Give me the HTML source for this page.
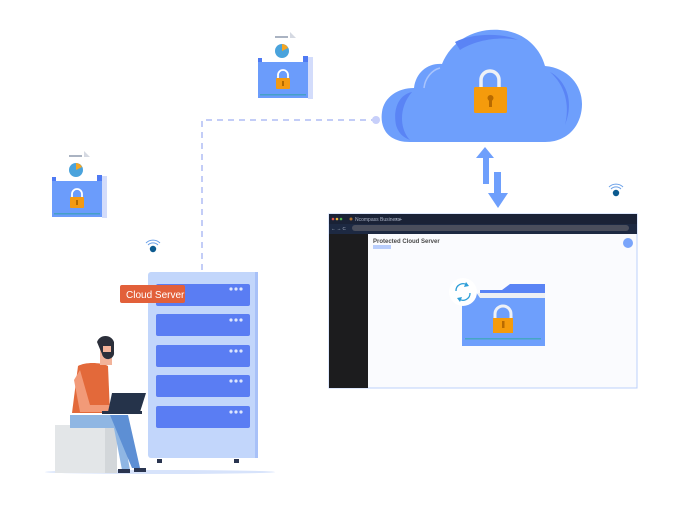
<!DOCTYPE html>
<html><head><meta charset="utf-8"><style>
html,body{margin:0;padding:0;background:#fff;}
svg{display:block;}
text{font-family:"Liberation Sans",sans-serif;}
</style></head><body>
<svg width="675" height="525" viewBox="0 0 675 525" xmlns="http://www.w3.org/2000/svg">
<defs>
<g id="fold">
  <rect x="17" y="0" width="13" height="2" fill="#aab3c2"/>
  <polygon points="32,-4 40,4 32,4" fill="#d5d9e2"/>
  <rect x="8" y="2" width="38" height="20" fill="#fff"/>
  <circle cx="24" cy="15" r="7" fill="#4aa3dc"/>
  <path d="M24 15 L24 8 A7 7 0 0 1 30 12 Z" fill="#f5a623"/>
  <rect x="50" y="21" width="5" height="42" fill="#d3dcfb"/>
  <rect x="0" y="26" width="50" height="36" fill="#6b9cfb"/>
  <rect x="0" y="22" width="4" height="4" fill="#4f7af3"/>
  <rect x="45" y="20" width="5" height="6" fill="#4f7af3"/>
  <rect x="2" y="58" width="46" height="1.5" fill="#46a0c7"/>
  <path d="M20 43 v-4 a5 5 0 0 1 10 0 v4" stroke="#fff" stroke-width="1.8" fill="none"/>
  <rect x="18" y="42" width="14" height="11" rx="1" fill="#f39a12"/>
  <rect x="24" y="45" width="2" height="5" fill="#b26a00"/>
</g>
<g id="wifi">
  <circle cx="0" cy="4" r="3.2" fill="#0c5a8f"/>
  <path d="M-5 0 a7 7 0 0 1 10 0" stroke="#6aa0e8" stroke-width="1" fill="none"/>
  <path d="M-7 -2 a10 10 0 0 1 14 0" stroke="#6aa0e8" stroke-width="1" fill="none"/>
</g>
</defs>

<!-- dashed connector -->
<path d="M202 270 V120 H374" stroke="#c3cdf7" stroke-width="2" stroke-dasharray="6,5" fill="none"/>
<circle cx="376" cy="120" r="4" fill="#c7cffa"/>

<!-- folders -->
<use href="#fold" transform="translate(258,36)"/>
<use href="#fold" transform="translate(52,155)"/>

<!-- wifi -->
<use href="#wifi" transform="translate(153,245)"/>
<use href="#wifi" transform="translate(616,189)"/>

<!-- cloud -->
<g>
  <path d="M410 142 C385 142 380 125 382 112 C384 97 398 88 414 88 C416 72 428 63 442 64 C452 40 475 28 500 30 C525 32 540 48 545 66 C568 68 582 85 582 104 C582 125 568 142 545 142 Z" fill="#6e9ffc"/>
  <path d="M455 42 C470 34 500 32 518 40 C500 36 475 40 460 50 Z" fill="#5a84f5"/>
  <path d="M412 92 C398 95 393 110 396 125 C398 132 402 137 410 140 C400 130 398 108 412 92 Z" fill="#5a84f5"/>
  <path d="M550 72 C565 80 575 100 565 125 C570 105 565 85 550 72 Z" fill="#5a84f5"/>
  <path d="M440 68 C432 70 425 78 424 88" stroke="#a9c4fc" stroke-width="1.5" fill="none"/>
  <path d="M481 88 v-8 a9 9 0 0 1 18 0 v8" stroke="#eef1f6" stroke-width="3.5" fill="none"/>
  <rect x="474" y="87" width="33" height="26" rx="1.5" fill="#f59b0c"/>
  <circle cx="490.5" cy="98" r="3" fill="#b86a00"/>
  <rect x="489" y="99" width="3" height="8" fill="#b86a00"/>
</g>
<!-- arrows -->
<polygon points="485,147 494,158 489,158 489,184 483,184 483,158 476,158" fill="#6e9ffc"/>
<polygon points="494,172 501,172 501,193 508,193 498,208 488,193 494,193" fill="#6e9ffc"/>

<!-- browser -->
<rect x="329" y="214" width="308" height="174" fill="#fafbfe" stroke="#bcd0fb" stroke-width="1"/>
<rect x="329" y="214" width="308" height="20" fill="#1d2942"/>
<rect x="329" y="214" width="308" height="10" fill="#1a2236"/>
<circle cx="333" cy="219" r="1.3" fill="#e0514b"/><circle cx="337" cy="219" r="1.3" fill="#e5b53a"/><circle cx="341" cy="219" r="1.3" fill="#4fb44a"/>
<circle cx="351" cy="219" r="1.5" fill="#b0702c"/>
<text x="355" y="221" font-size="5" fill="#aab2c5">Ncompass Business</text>
<text x="395" y="221" font-size="5" fill="#aab2c5">×   +</text>
<rect x="352" y="225" width="277" height="6" rx="3" fill="#4a4e5c"/>
<text x="331" y="230" font-size="4.5" fill="#aab2c5">← → C</text>
<rect x="329" y="234" width="39" height="154" fill="#1c1c1e"/>
<text x="373" y="243" font-size="6" fill="#4a4a4a" font-weight="bold">Protected Cloud Server</text>
<rect x="373" y="245" width="18" height="4" fill="#b8cdfc"/>
<circle cx="628" cy="243" r="5" fill="#7aa5fb"/>
<!-- folder inside -->
<polygon points="480,290 502,290 510,284 545,284 545,293 480,293" fill="#5a84f5"/>
<rect x="478" y="293" width="67" height="6" fill="#eef0f4"/>
<path d="M462 292 H476 L480 298 H545 V346 H462 Z" fill="#6e9ffc"/>
<rect x="465" y="338" width="76" height="1.5" fill="#46a6c4"/>
<path d="M495 319 v-5 a8 8 0 0 1 16 0 v5" stroke="#eef1f6" stroke-width="3" fill="none"/>
<rect x="493" y="318" width="20" height="15" fill="#f59b0c"/>
<rect x="502" y="321" width="2.5" height="7" fill="#b86a00"/>
<circle cx="463" cy="292" r="14" fill="#fff"/>
<path d="M456 291 a7 7 0 0 1 11 -6" stroke="#2d9ed8" stroke-width="1.3" fill="none"/>
<path d="M470 293 a7 7 0 0 1 -11 6" stroke="#2d9ed8" stroke-width="1.3" fill="none"/>
<polygon points="466,282 469,286 464,287" fill="#2d9ed8"/>
<polygon points="460,302 457,298 462,297" fill="#2d9ed8"/>

<!-- ground -->
<ellipse cx="160" cy="472" rx="115" ry="2" fill="#d7e3fb"/>
<!-- server -->
<rect x="148" y="272" width="110" height="186" rx="3" fill="#c2d6fb"/>
<rect x="255" y="272" width="3" height="186" fill="#a8c1f8"/>
<rect x="157" y="459" width="5" height="4" fill="#2a3550"/>
<rect x="234" y="459" width="5" height="4" fill="#2a3550"/>
<g fill="#5a7df3">
<rect x="156" y="284" width="94" height="22" rx="2"/>
<rect x="156" y="314" width="94" height="22" rx="2"/>
<rect x="156" y="345" width="94" height="22" rx="2"/>
<rect x="156" y="375" width="94" height="22" rx="2"/>
<rect x="156" y="406" width="94" height="22" rx="2"/>
</g>
<g fill="#dde6fd">
<circle cx="231" cy="289" r="1.6"/><circle cx="236" cy="289" r="1.6"/><circle cx="241" cy="289" r="1.6"/>
<circle cx="231" cy="320" r="1.6"/><circle cx="236" cy="320" r="1.6"/><circle cx="241" cy="320" r="1.6"/>
<circle cx="231" cy="351" r="1.6"/><circle cx="236" cy="351" r="1.6"/><circle cx="241" cy="351" r="1.6"/>
<circle cx="231" cy="381" r="1.6"/><circle cx="236" cy="381" r="1.6"/><circle cx="241" cy="381" r="1.6"/>
<circle cx="231" cy="412" r="1.6"/><circle cx="236" cy="412" r="1.6"/><circle cx="241" cy="412" r="1.6"/>
</g>
<rect x="120" y="285" width="65" height="18" rx="2" fill="#e2603a"/>
<text x="126" y="298" font-size="10" fill="#fff">Cloud Server</text>

<!-- person -->
<rect x="55" y="425" width="62" height="48" fill="#e3e6e8"/>
<rect x="105" y="425" width="12" height="48" fill="#d3d7da"/>
<path d="M70 415 H120 L130 470 H122 L114 428 H70 Z" fill="#8fb6e3"/>
<path d="M110 415 H128 L140 468 H132 Z" fill="#5d8fd4"/>
<rect x="118" y="469" width="12" height="4" fill="#2a3550"/>
<rect x="134" y="468" width="12" height="4" fill="#2a3550"/>
<path d="M78 366 C85 362 100 362 108 366 L110 413 H72 Z" fill="#e3693a"/>
<path d="M80 370 L90 405 H118 V412 H80 L74 380 Z" fill="#f29a78"/>
<rect x="100" y="345" width="12" height="20" fill="#f2b39a"/>
<path d="M97 342 a9 9 0 0 1 17 0 v10 a6 6 0 0 1 -12 2 Z" fill="#2b2f3a"/>
<rect x="103" y="346" width="8" height="6" fill="#f2b39a"/>
<polygon points="112,393 146,393 140,412 108,412" fill="#25334a"/>
<rect x="102" y="411" width="40" height="3" fill="#25334a"/>
</svg>
</body></html>
